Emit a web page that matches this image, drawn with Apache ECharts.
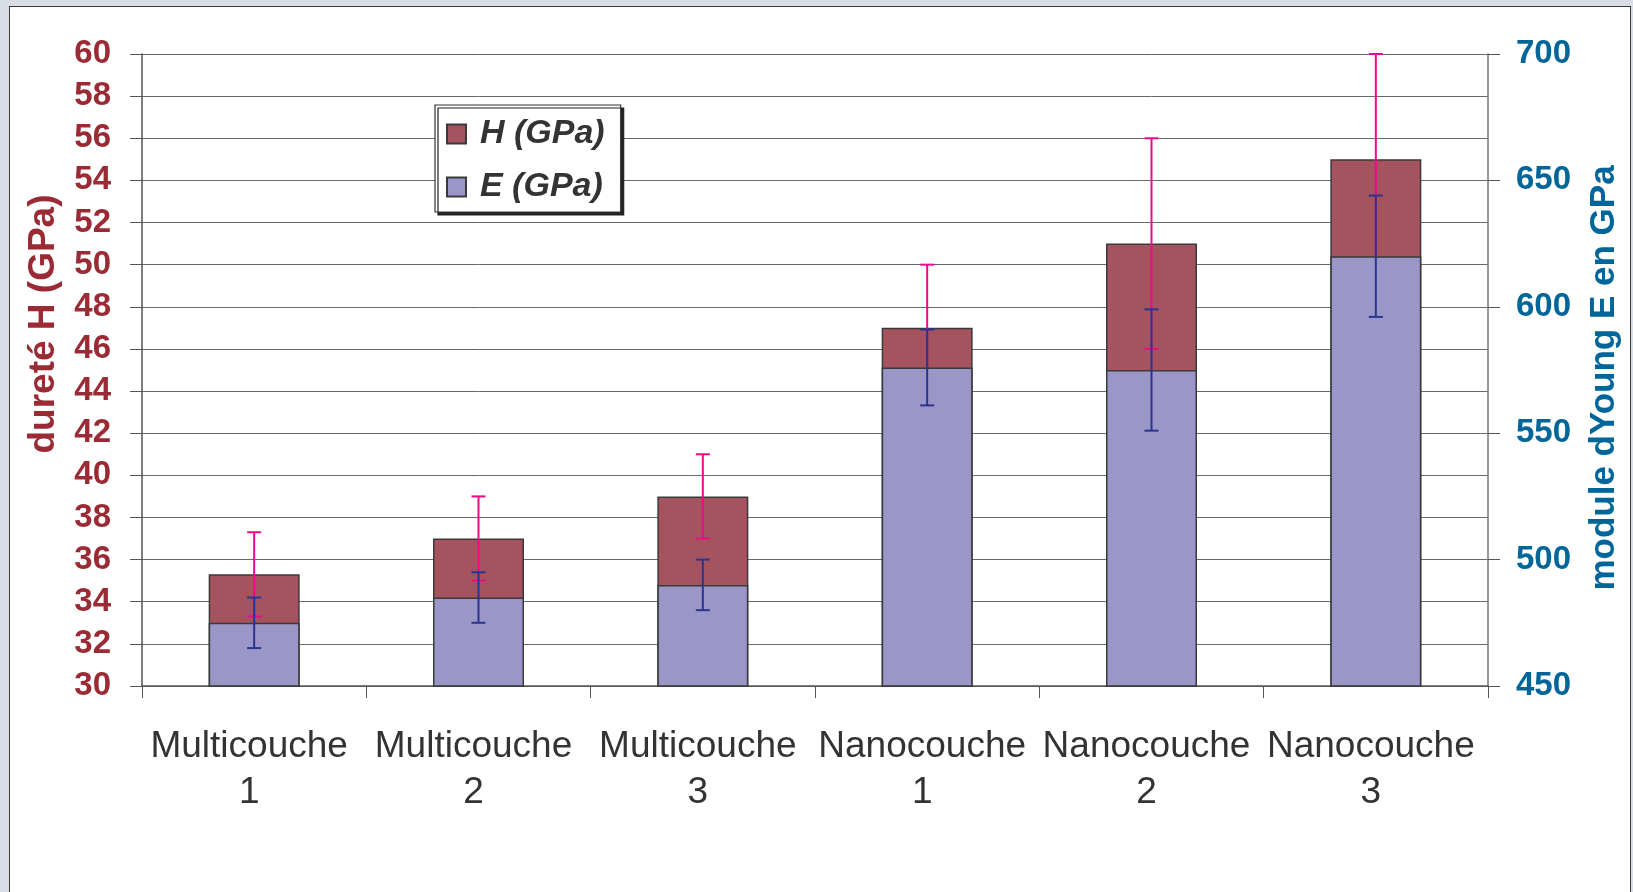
<!DOCTYPE html>
<html>
<head>
<meta charset="utf-8">
<script src="https://cdn.jsdelivr.net/npm/echarts@6/dist/echarts.min.js"></script>
<style>
  html, body { margin: 0; padding: 0; width: 1633px; height: 892px; background: #D8DDE6; overflow: hidden; }
  #panel { position: absolute; left: 9px; top: 6px; width: 1620px; height: 900px; background: #ffffff; border: 1px solid #3a3a3a; }
  #chart { position: absolute; left: 0; top: 0; width: 1633px; height: 892px; }
</style>
</head>
<body>
<div id="panel"></div>
<div id="chart"></div>
<script>
const categories = ['Multicouche\n1', 'Multicouche\n2', 'Multicouche\n3', 'Nanocouche\n1', 'Nanocouche\n2', 'Nanocouche\n3'];
const hValues = [35.3, 37, 39, 47, 51, 55];
const hErrLow = [33.3, 35, 37, 44, 46, 50];
const hErrHigh = [37.3, 39, 41, 50, 56, 60];
const eValues = [475, 485, 490, 576, 575, 620];
const eErrLow = [465, 475, 480, 561, 551, 596];
const eErrHigh = [485, 495, 500, 591, 599, 644];
const hTicks = {min: 30, max: 60, interval: 2};
const eTicks = {min: 450, max: 700, interval: 50};

const FONT = "'Liberation Sans', Arial, Helvetica, sans-serif";

function errData(low, high) {
  return low.map((l, i) => [i, l, high[i]]);
}
function errRender(color) {
  return function (params, api) {
    const i = api.value(0);
    const lo = api.coord([i, api.value(1)]);
    const hi = api.coord([i, api.value(2)]);
    const hw = 7;
    const st = {stroke: color, lineWidth: 2};
    return {
      type: 'group',
      children: [
        {type: 'line', shape: {x1: lo[0], y1: lo[1], x2: hi[0], y2: hi[1]}, style: st},
        {type: 'line', shape: {x1: hi[0] - hw, y1: hi[1], x2: hi[0] + hw, y2: hi[1]}, style: st},
        {type: 'line', shape: {x1: lo[0] - hw, y1: lo[1], x2: lo[0] + hw, y2: lo[1]}, style: st}
      ]
    };
  };
}

const chart = echarts.init(document.getElementById('chart'));
chart.setOption({
  backgroundColor: 'transparent',
  textStyle: {fontFamily: FONT},
  animation: false,
  grid: {left: 142, right: 145, top: 54, bottom: 206, containLabel: false},
  legend: {
    orient: 'vertical',
    left: 435, top: 105,
    padding: [12, 16, 8, 11],
    itemGap: 19,
    itemWidth: 19, itemHeight: 19,
    icon: 'rect',
    backgroundColor: '#ffffff',
    borderColor: '#333333', borderWidth: 1.2,
    shadowColor: '#222222', shadowBlur: 0, shadowOffsetX: 3, shadowOffsetY: 3,
    data: ['H (GPa)', 'E (GPa)'],
    textStyle: {fontFamily: FONT, fontSize: 34, fontWeight: 'bold', fontStyle: 'italic', color: '#333333', lineHeight: 33, padding: [0, 0, 0, 9]}
  },
  xAxis: {
    type: 'category',
    data: categories,
    boundaryGap: true,
    axisLine: {show: true, lineStyle: {color: '#555555', width: 1.5}},
    axisTick: {show: true, length: 12, inside: false, alignWithLabel: false, interval: 0, lineStyle: {color: '#555555'}},
    axisLabel: {interval: 0, margin: 38, color: '#333333', fontSize: 37, lineHeight: 46, fontFamily: FONT, padding: [0, 10, 0, 0]},
    splitLine: {show: false}
  },
  yAxis: [
    {
      type: 'value', position: 'left',
      min: hTicks.min, max: hTicks.max, interval: hTicks.interval,
      name: 'dureté H (GPa)', nameLocation: 'middle', nameRotate: 90, nameGap: 80,
      nameTextStyle: {color: '#9A2A34', fontSize: 37, fontWeight: 'bold', fontFamily: FONT, lineHeight: 36, padding: [0, 0, 0, 92]},
      axisLine: {show: true, lineStyle: {color: '#555555', width: 1.5}},
      axisTick: {show: true, length: 12, lineStyle: {color: '#555555'}},
      axisLabel: {margin: 31, color: '#9A2A34', fontSize: 33, fontWeight: 'bold', fontFamily: FONT, padding: [6, 0, 0, 0]},
      splitLine: {show: true, lineStyle: {color: '#6a6a6a', width: 1}}
    },
    {
      type: 'value', position: 'right',
      min: eTicks.min, max: eTicks.max, interval: eTicks.interval,
      name: 'module dYoung E en GPa', nameLocation: 'middle', nameRotate: 90, nameGap: 99,
      nameTextStyle: {color: '#00669A', fontSize: 35, fontWeight: 'bold', fontFamily: FONT, lineHeight: 34, padding: [0, 16, 0, 0]},
      axisLine: {show: true, lineStyle: {color: '#777777', width: 1.5}},
      axisTick: {show: true, length: 12, lineStyle: {color: '#555555'}},
      axisLabel: {margin: 28, color: '#00669A', fontSize: 33, fontWeight: 'bold', fontFamily: FONT, padding: [6, 0, 0, 0]},
      splitLine: {show: false}
    }
  ],
  series: [
    {
      name: 'H (GPa)', type: 'bar', yAxisIndex: 0, z: 2,
      data: hValues, barWidth: 91, barGap: '-100%',
      itemStyle: {color: '#A5535F', borderColor: '#3a3a3a', borderWidth: 1.5}
    },
    {
      name: 'H err', type: 'custom', yAxisIndex: 0, z: 3,
      data: errData(hErrLow, hErrHigh),
      encode: {x: 0, y: [1, 2]},
      renderItem: errRender('#EC0A8C')
    },
    {
      name: 'E (GPa)', type: 'bar', yAxisIndex: 1, z: 4,
      data: eValues, barWidth: 91, barGap: '-100%',
      itemStyle: {color: '#9B96C8', borderColor: '#3a3a3a', borderWidth: 1.5}
    },
    {
      name: 'E err', type: 'custom', yAxisIndex: 1, z: 5,
      data: errData(eErrLow, eErrHigh),
      encode: {x: 0, y: [1, 2]},
      renderItem: errRender('#2B3590')
    }
  ]
});
</script>
</body>
</html>
